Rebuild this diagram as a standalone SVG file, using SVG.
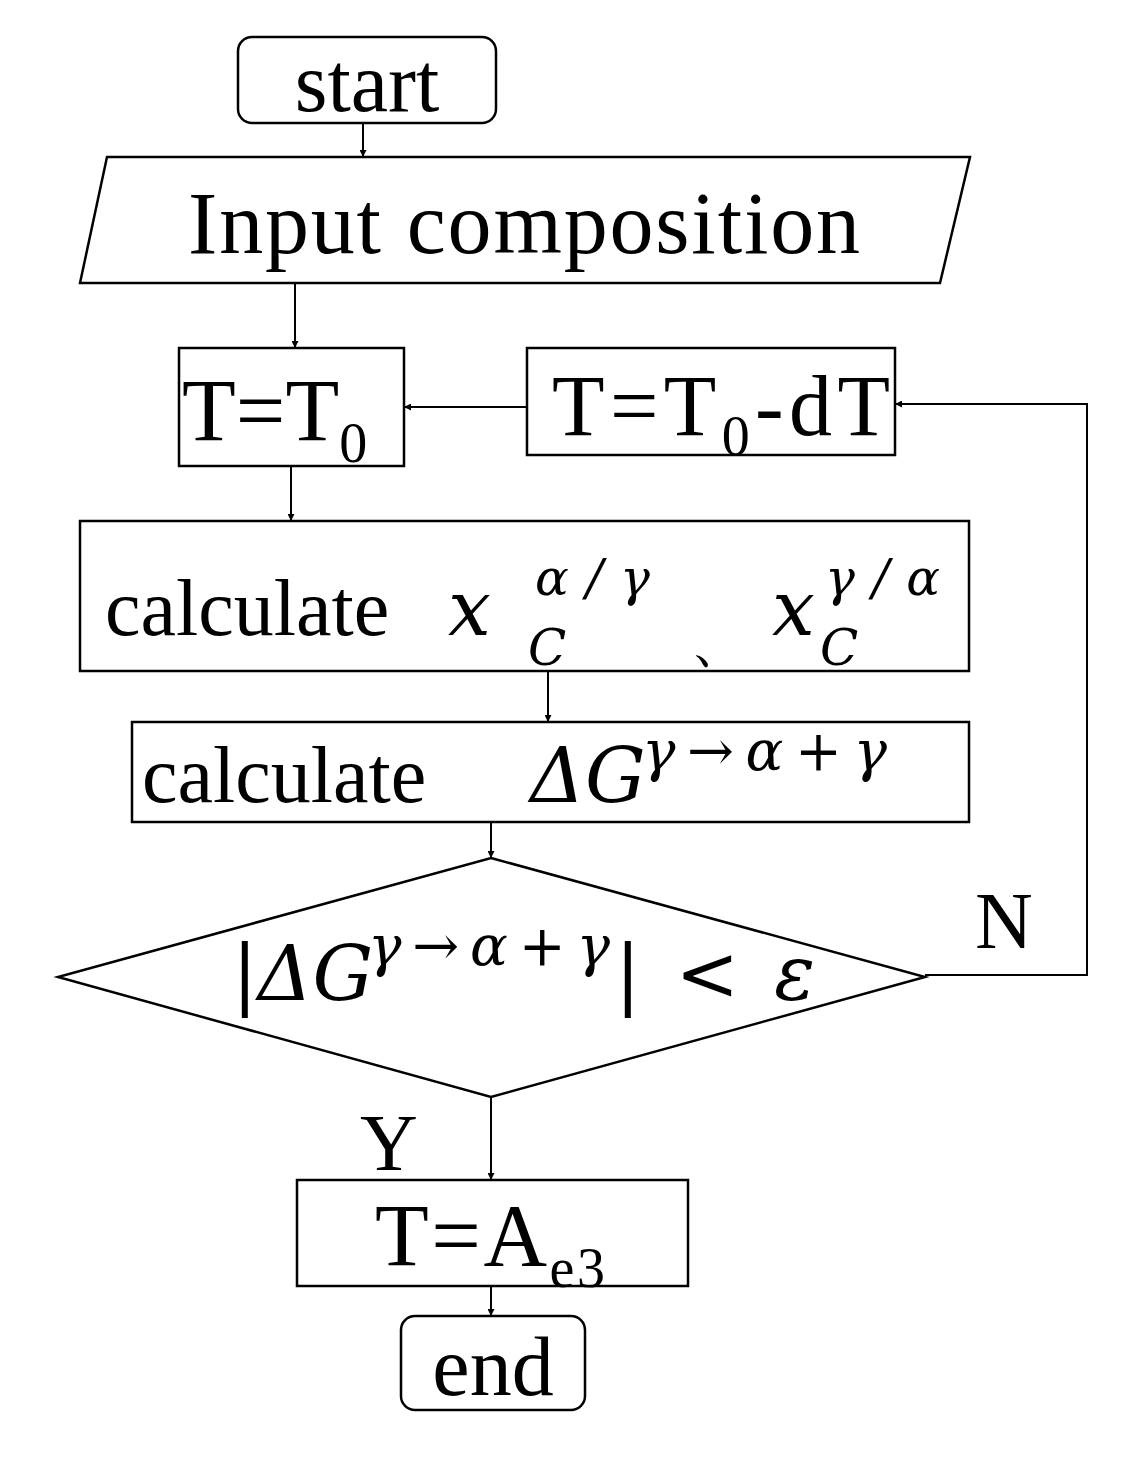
<svg xmlns="http://www.w3.org/2000/svg" width="1140" height="1462" viewBox="0 0 1140 1462">
<style>
.s{fill:#fff;stroke:#000;stroke-width:2.5}
.l{fill:none;stroke:#000;stroke-width:2}
text{font-family:"Liberation Serif","Times New Roman",serif;fill:#000}
.m{font-style:italic;font-family:"DejaVu Serif","Liberation Serif",serif}
</style>
<defs><marker id="a" viewBox="0 0 10 10" refX="10" refY="5" markerWidth="7" markerHeight="7" orient="auto" markerUnits="userSpaceOnUse"><path d="M0,0L10,5L0,10z"/></marker></defs>
<rect width="1140" height="1462" fill="#fff"/>
<g id="connectors">
<path class="l" d="M363,123V157" marker-end="url(#a)"/>
<path class="l" d="M295,283V348" marker-end="url(#a)"/>
<path class="l" d="M527,407H404" marker-end="url(#a)"/>
<path class="l" d="M925,975H1087V404H895" marker-end="url(#a)"/>
<path class="l" d="M291,466V521" marker-end="url(#a)"/>
<path class="l" d="M548,671V722" marker-end="url(#a)"/>
<path class="l" d="M491,822V858" marker-end="url(#a)"/>
<path class="l" d="M491,1097V1180" marker-end="url(#a)"/>
<path class="l" d="M491,1286V1316" marker-end="url(#a)"/>
</g>
<g id="start"><rect class="s" x="238" y="37" width="258" height="86" rx="14"/><text x="367" y="111" font-size="84" text-anchor="middle">start</text></g>
<g id="input"><polygon class="s" points="107,157 970,157 940,283 80,283"/><text x="188" y="253" font-size="88" textLength="672">Input composition</text></g>
<g id="t0"><rect class="s" x="179" y="348" width="225" height="118"/><text x="182" y="440" font-size="88">T=T<tspan font-size="56" dy="22">0</tspan></text></g>
<g id="t0dt"><rect class="s" x="527" y="348" width="368" height="107"/><text x="552" y="435" font-size="86" textLength="338">T=T<tspan font-size="56" dy="20">0</tspan><tspan dy="-20">-dT</tspan></text></g>
<g id="calc1"><rect class="s" x="80" y="521" width="889" height="150"/>
<text x="105" y="635" font-size="80">calculate</text>
<text class="m" x="448" y="635" font-size="76">x</text><text class="m" x="535" y="595" font-size="50" textLength="115">α/γ</text><text class="m" x="528" y="665" font-size="50">C</text>
<text x="690" y="660" font-size="60">、</text>
<text class="m" x="772" y="635" font-size="76">x</text><text class="m" x="825" y="595" font-size="50" textLength="115">γ/α</text><text class="m" x="820" y="665" font-size="50">C</text>
</g>
<g id="calc2"><rect class="s" x="132" y="722" width="837" height="100"/>
<text x="142" y="802" font-size="80">calculate</text>
<text class="m" x="530" y="802" font-size="76">ΔG</text><text class="m" x="642" y="770" font-size="56" textLength="245">γ→α+γ</text>
</g>
<g id="decision"><polygon class="s" points="491,858 925,977 491,1097 58,977"/>
<text class="m" x="232" y="1000" font-size="76">|ΔG</text><text class="m" x="368" y="965" font-size="56" textLength="242">γ→α+γ</text><text class="m" x="615" y="1000" font-size="76" textLength="200">| &lt; ε</text>
</g>
<g id="ae3"><rect class="s" x="297" y="1180" width="391" height="106"/><text x="375" y="1265" font-size="88" textLength="230">T=A<tspan font-size="56" dy="22">e3</tspan></text></g>
<g id="end"><rect class="s" x="401" y="1316" width="184" height="94" rx="14"/><text x="493" y="1395" font-size="84" text-anchor="middle">end</text></g>
<text x="975" y="948" font-size="80">N</text>
<text x="360" y="1170" font-size="80">Y</text>
</svg>
